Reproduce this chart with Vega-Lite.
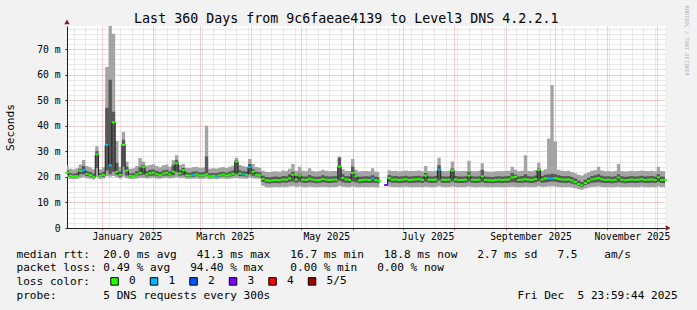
{
  "$schema": "https://vega.github.io/schema/vega-lite/v6.json",
  "width": 598,
  "height": 202,
  "autosize": "none",
  "padding": {"left": 67, "top": 26, "right": 32, "bottom": 82},
  "background": "#f2f2f2",
  "title": {"text": "Last 360 Days from 9c6faeae4139 to Level3 DNS 4.2.2.1", "font": "DejaVu Sans Mono", "fontSize": 13.3, "fontWeight": "normal", "color": "#000000", "anchor": "middle", "frame": "bounds", "dy": 24},
  "config": {
    "view": {"fill": "#ffffff", "stroke": null},
    "font": "DejaVu Sans Mono",
    "axis": {"labelFont": "DejaVu Sans Mono", "labelFontSize": 9.7, "labelColor": "#000000", "titleFont": "DejaVu Sans Mono", "titleFontWeight": "normal", "titleColor": "#000000", "domainColor": "#1f1f1f"},
    "legend": {"labelFont": "DejaVu Sans Mono", "labelFontSize": 11.1, "labelColor": "#000000"}
  },
  "data": {"values": [
    {"t":"2024-12-11T00:00","lo":19.8,"a":20.9,"m":21.6,"b":22.6,"hi":24.4,"l":"0"},
    {"t":"2024-12-13T00:00","lo":19.2,"a":19.9,"m":20.4,"b":21.4,"hi":23.2,"l":"0"},
    {"t":"2024-12-15T00:00","lo":19.1,"a":19.8,"m":20.2,"b":21.2,"hi":22.9,"l":"0"},
    {"t":"2024-12-17T00:00","lo":19.2,"a":19.9,"m":20.3,"b":21.5,"hi":23.4,"l":"0"},
    {"t":"2024-12-19T00:00","lo":19.6,"a":21.0,"m":22.4,"b":23.2,"hi":24.8,"l":"0"},
    {"t":"2024-12-21T00:00","lo":19.8,"a":21.0,"m":22.6,"b":24.2,"hi":26.6,"l":"1"},
    {"t":"2024-12-23T00:00","lo":19.5,"a":20.3,"m":21.2,"b":22.3,"hi":24.2,"l":"0"},
    {"t":"2024-12-25T00:00","lo":19.3,"a":20.1,"m":20.7,"b":21.9,"hi":23.8,"l":"0"},
    {"t":"2024-12-27T00:00","lo":19.0,"a":19.6,"m":20.1,"b":21.2,"hi":23.0,"l":"0"},
    {"t":"2024-12-29T00:00","lo":19.8,"a":23.5,"m":28.8,"b":30.0,"hi":32.0,"l":"0"},
    {"t":"2024-12-31T00:00","lo":19.2,"a":19.9,"m":20.4,"b":21.4,"hi":23.0,"l":"0"},
    {"t":"2025-01-02T00:00","lo":19.4,"a":20.0,"m":20.8,"b":22.0,"hi":23.8,"l":"0"},
    {"t":"2025-01-04T00:00","lo":20.2,"a":22.5,"m":32.5,"b":47.0,"hi":63.0,"l":"1"},
    {"t":"2025-01-06T00:00","lo":20.0,"a":21.0,"m":24.5,"b":58.0,"hi":90.0,"l":"1"},
    {"t":"2025-01-08T00:00","lo":20.3,"a":22.0,"m":41.3,"b":45.5,"hi":76.0,"l":"0"},
    {"t":"2025-01-10T00:00","lo":19.8,"a":20.8,"m":22.0,"b":25.5,"hi":34.0,"l":"0"},
    {"t":"2025-01-12T00:00","lo":19.3,"a":20.0,"m":20.8,"b":22.0,"hi":24.0,"l":"0"},
    {"t":"2025-01-14T00:00","lo":20.0,"a":24.0,"m":32.5,"b":34.5,"hi":37.5,"l":"0"},
    {"t":"2025-01-16T00:00","lo":19.5,"a":20.5,"m":22.5,"b":24.0,"hi":26.0,"l":"0"},
    {"t":"2025-01-18T00:00","lo":19.2,"a":19.8,"m":20.4,"b":21.3,"hi":23.2,"l":"0"},
    {"t":"2025-01-20T00:00","lo":19.2,"a":19.9,"m":20.3,"b":21.4,"hi":23.4,"l":"0"},
    {"t":"2025-01-22T00:00","lo":19.4,"a":20.2,"m":20.9,"b":22.2,"hi":24.2,"l":"0"},
    {"t":"2025-01-24T00:00","lo":19.6,"a":20.6,"m":21.5,"b":23.8,"hi":27.4,"l":"0"},
    {"t":"2025-01-26T00:00","lo":19.6,"a":20.8,"m":23.8,"b":24.5,"hi":26.0,"l":"0"},
    {"t":"2025-01-28T00:00","lo":19.4,"a":20.1,"m":20.9,"b":22.2,"hi":24.3,"l":"0"},
    {"t":"2025-01-30T00:00","lo":19.5,"a":20.4,"m":21.4,"b":22.8,"hi":24.6,"l":"0"},
    {"t":"2025-02-01T00:00","lo":19.6,"a":20.5,"m":21.6,"b":22.9,"hi":24.9,"l":"0"},
    {"t":"2025-02-03T00:00","lo":19.4,"a":20.2,"m":21.0,"b":22.3,"hi":24.2,"l":"0"},
    {"t":"2025-02-05T00:00","lo":19.3,"a":20.1,"m":20.7,"b":21.9,"hi":23.8,"l":"0"},
    {"t":"2025-02-07T00:00","lo":19.5,"a":20.4,"m":21.3,"b":22.5,"hi":24.5,"l":"0"},
    {"t":"2025-02-09T00:00","lo":19.6,"a":20.5,"m":21.6,"b":22.8,"hi":24.8,"l":"0"},
    {"t":"2025-02-11T00:00","lo":19.4,"a":20.2,"m":20.9,"b":22.1,"hi":24.0,"l":"0"},
    {"t":"2025-02-13T00:00","lo":19.5,"a":20.6,"m":22.0,"b":24.5,"hi":26.5,"l":"0"},
    {"t":"2025-02-15T00:00","lo":19.8,"a":22.0,"m":25.3,"b":26.5,"hi":28.5,"l":"0"},
    {"t":"2025-02-17T00:00","lo":19.5,"a":20.4,"m":21.4,"b":22.6,"hi":24.6,"l":"0"},
    {"t":"2025-02-19T00:00","lo":19.6,"a":20.6,"m":22.6,"b":23.5,"hi":25.0,"l":"0"},
    {"t":"2025-02-21T00:00","lo":19.3,"a":20.0,"m":20.6,"b":21.8,"hi":23.6,"l":"0"},
    {"t":"2025-02-23T00:00","lo":19.2,"a":19.9,"m":20.5,"b":21.6,"hi":23.5,"l":"0"},
    {"t":"2025-02-25T00:00","lo":19.3,"a":20.0,"m":20.7,"b":22.0,"hi":23.9,"l":"1"},
    {"t":"2025-02-27T00:00","lo":19.4,"a":20.2,"m":20.9,"b":22.1,"hi":24.0,"l":"0"},
    {"t":"2025-03-01T00:00","lo":19.2,"a":19.9,"m":20.5,"b":21.7,"hi":23.6,"l":"0"},
    {"t":"2025-03-03T00:00","lo":19.3,"a":20.0,"m":20.6,"b":21.8,"hi":23.7,"l":"0"},
    {"t":"2025-03-05T00:00","lo":19.4,"a":20.5,"m":21.0,"b":28.0,"hi":40.0,"l":"0"},
    {"t":"2025-03-07T00:00","lo":19.1,"a":19.8,"m":20.3,"b":21.4,"hi":23.2,"l":"0"},
    {"t":"2025-03-09T00:00","lo":19.2,"a":19.9,"m":20.4,"b":21.5,"hi":23.4,"l":"0"},
    {"t":"2025-03-11T00:00","lo":19.1,"a":19.8,"m":20.3,"b":21.4,"hi":23.3,"l":"1"},
    {"t":"2025-03-13T00:00","lo":19.3,"a":20.0,"m":20.6,"b":21.8,"hi":23.6,"l":"0"},
    {"t":"2025-03-15T00:00","lo":19.4,"a":20.2,"m":20.9,"b":22.0,"hi":23.9,"l":"0"},
    {"t":"2025-03-17T00:00","lo":19.2,"a":19.9,"m":20.5,"b":21.6,"hi":23.5,"l":"0"},
    {"t":"2025-03-19T00:00","lo":19.3,"a":20.1,"m":20.8,"b":22.1,"hi":24.0,"l":"0"},
    {"t":"2025-03-21T00:00","lo":19.5,"a":20.4,"m":21.2,"b":22.5,"hi":24.3,"l":"0"},
    {"t":"2025-03-23T00:00","lo":19.6,"a":21.0,"m":26.0,"b":26.6,"hi":27.5,"l":"0"},
    {"t":"2025-03-25T00:00","lo":19.4,"a":20.3,"m":21.3,"b":22.6,"hi":24.6,"l":"0"},
    {"t":"2025-03-27T00:00","lo":19.4,"a":20.2,"m":21.0,"b":22.2,"hi":24.2,"l":"1"},
    {"t":"2025-03-29T00:00","lo":19.3,"a":20.1,"m":20.8,"b":22.1,"hi":24.0,"l":"0"},
    {"t":"2025-03-31T00:00","lo":19.7,"a":21.0,"m":23.8,"b":25.0,"hi":27.0,"l":"1"},
    {"t":"2025-04-02T00:00","lo":19.4,"a":20.4,"m":22.0,"b":23.0,"hi":25.0,"l":"0"},
    {"t":"2025-04-04T00:00","lo":19.3,"a":20.1,"m":20.8,"b":22.0,"hi":23.9,"l":"0"},
    {"t":"2025-04-06T00:00","lo":19.2,"a":20.0,"m":20.6,"b":21.8,"hi":23.6,"l":"0"},
    {"t":"2025-04-08T00:00","lo":16.5,"a":18.0,"m":19.2,"b":20.4,"hi":22.4,"l":"0"},
    {"t":"2025-04-10T00:00","lo":15.9,"a":17.5,"m":18.6,"b":19.9,"hi":22.0,"l":"0"},
    {"t":"2025-04-12T00:00","lo":15.8,"a":17.4,"m":18.5,"b":19.8,"hi":21.9,"l":"0"},
    {"t":"2025-04-14T00:00","lo":15.9,"a":17.6,"m":18.7,"b":20.0,"hi":22.1,"l":"0"},
    {"t":"2025-04-16T00:00","lo":16.0,"a":17.6,"m":18.8,"b":20.1,"hi":22.2,"l":"0"},
    {"t":"2025-04-18T00:00","lo":15.9,"a":17.5,"m":18.6,"b":19.9,"hi":22.0,"l":"0"},
    {"t":"2025-04-20T00:00","lo":16.1,"a":17.8,"m":19.0,"b":20.3,"hi":22.5,"l":"0"},
    {"t":"2025-04-22T00:00","lo":16.0,"a":17.7,"m":18.9,"b":20.2,"hi":22.3,"l":"0"},
    {"t":"2025-04-24T00:00","lo":16.2,"a":18.0,"m":19.4,"b":21.0,"hi":23.2,"l":"0"},
    {"t":"2025-04-26T00:00","lo":16.3,"a":18.2,"m":20.8,"b":22.0,"hi":25.0,"l":"0"},
    {"t":"2025-04-28T00:00","lo":16.0,"a":17.7,"m":18.9,"b":20.3,"hi":22.4,"l":"0"},
    {"t":"2025-04-30T00:00","lo":16.2,"a":18.1,"m":20.5,"b":21.2,"hi":24.0,"l":"0"},
    {"t":"2025-05-02T00:00","lo":16.0,"a":17.7,"m":18.9,"b":20.2,"hi":22.4,"l":"0"},
    {"t":"2025-05-04T00:00","lo":15.9,"a":17.6,"m":18.8,"b":20.1,"hi":22.2,"l":"0"},
    {"t":"2025-05-06T00:00","lo":16.1,"a":17.9,"m":19.2,"b":20.7,"hi":23.4,"l":"0"},
    {"t":"2025-05-08T00:00","lo":16.0,"a":17.7,"m":18.9,"b":20.2,"hi":22.3,"l":"0"},
    {"t":"2025-05-10T00:00","lo":15.9,"a":17.5,"m":18.7,"b":20.0,"hi":22.1,"l":"0"},
    {"t":"2025-05-12T00:00","lo":16.0,"a":17.6,"m":18.8,"b":20.1,"hi":22.3,"l":"0"},
    {"t":"2025-05-14T00:00","lo":16.1,"a":17.9,"m":19.2,"b":20.6,"hi":22.8,"l":"0"},
    {"t":"2025-05-16T00:00","lo":16.0,"a":17.7,"m":18.9,"b":20.2,"hi":22.4,"l":"0"},
    {"t":"2025-05-18T00:00","lo":15.9,"a":17.6,"m":18.8,"b":20.1,"hi":22.2,"l":"0"},
    {"t":"2025-05-20T00:00","lo":16.0,"a":17.7,"m":18.9,"b":20.2,"hi":22.3,"l":"0"},
    {"t":"2025-05-22T00:00","lo":16.0,"a":17.8,"m":18.9,"b":20.2,"hi":22.3,"l":"0"},
    {"t":"2025-05-24T00:00","lo":16.3,"a":18.5,"m":24.0,"b":27.5,"hi":28.0,"l":"0"},
    {"t":"2025-05-26T00:00","lo":16.1,"a":17.9,"m":19.6,"b":21.0,"hi":23.0,"l":"0"},
    {"t":"2025-05-28T00:00","lo":16.0,"a":17.7,"m":19.0,"b":20.3,"hi":22.4,"l":"0"},
    {"t":"2025-05-30T00:00","lo":15.9,"a":17.6,"m":18.8,"b":20.2,"hi":22.3,"l":"0"},
    {"t":"2025-06-01T00:00","lo":16.2,"a":18.2,"m":21.5,"b":24.0,"hi":27.0,"l":"0"},
    {"t":"2025-06-03T00:00","lo":16.0,"a":17.8,"m":20.3,"b":20.8,"hi":22.8,"l":"0"},
    {"t":"2025-06-05T00:00","lo":15.9,"a":17.5,"m":18.6,"b":20.0,"hi":22.1,"l":"0"},
    {"t":"2025-06-07T00:00","lo":16.0,"a":17.6,"m":18.8,"b":20.1,"hi":22.3,"l":"0"},
    {"t":"2025-06-09T00:00","lo":16.0,"a":17.7,"m":18.9,"b":20.2,"hi":22.3,"l":"0"},
    {"t":"2025-06-11T00:00","lo":15.9,"a":17.6,"m":18.8,"b":20.1,"hi":22.2,"l":"0"},
    {"t":"2025-06-13T00:00","lo":16.0,"a":17.7,"m":19.3,"b":20.6,"hi":23.4,"l":"1"},
    {"t":"2025-06-15T00:00","lo":15.9,"a":17.6,"m":18.7,"b":20.0,"hi":22.1,"l":"0"},
    {"t":"2025-06-17T00:00","lo":15.8,"a":17.4,"m":18.5,"b":19.8,"hi":21.9,"l":"0"},
    {"t":"2025-06-19T00:00","lo":null,"a":null,"m":null,"b":null,"hi":null,"l":null},
    {"t":"2025-06-21T00:00","lo":16.5,"a":16.6,"m":16.8,"b":17.0,"hi":17.2,"l":"3"},
    {"t":"2025-06-23T00:00","lo":16.2,"a":18.0,"m":19.5,"b":20.7,"hi":22.6,"l":"0"},
    {"t":"2025-06-25T00:00","lo":16.0,"a":17.7,"m":18.9,"b":20.2,"hi":22.3,"l":"0"},
    {"t":"2025-06-27T00:00","lo":16.0,"a":17.7,"m":19.0,"b":20.3,"hi":22.4,"l":"0"},
    {"t":"2025-06-29T00:00","lo":15.9,"a":17.6,"m":18.8,"b":20.1,"hi":22.2,"l":"0"},
    {"t":"2025-07-01T00:00","lo":16.0,"a":17.7,"m":18.9,"b":20.2,"hi":22.3,"l":"0"},
    {"t":"2025-07-03T00:00","lo":16.1,"a":17.8,"m":19.1,"b":20.4,"hi":22.5,"l":"0"},
    {"t":"2025-07-05T00:00","lo":16.0,"a":17.6,"m":18.8,"b":20.1,"hi":22.3,"l":"0"},
    {"t":"2025-07-07T00:00","lo":15.9,"a":17.6,"m":18.9,"b":20.2,"hi":22.3,"l":"0"},
    {"t":"2025-07-09T00:00","lo":16.0,"a":17.7,"m":19.0,"b":20.3,"hi":22.4,"l":"0"},
    {"t":"2025-07-11T00:00","lo":16.0,"a":17.8,"m":19.1,"b":20.4,"hi":22.5,"l":"0"},
    {"t":"2025-07-13T00:00","lo":15.9,"a":17.6,"m":18.8,"b":20.1,"hi":22.2,"l":"0"},
    {"t":"2025-07-15T00:00","lo":16.1,"a":18.0,"m":20.5,"b":21.5,"hi":24.2,"l":"0"},
    {"t":"2025-07-17T00:00","lo":16.0,"a":17.7,"m":18.9,"b":20.2,"hi":22.3,"l":"0"},
    {"t":"2025-07-19T00:00","lo":15.9,"a":17.6,"m":18.8,"b":20.1,"hi":22.2,"l":"0"},
    {"t":"2025-07-21T00:00","lo":16.0,"a":17.7,"m":19.0,"b":20.3,"hi":22.4,"l":"0"},
    {"t":"2025-07-23T00:00","lo":16.3,"a":18.5,"m":22.8,"b":24.5,"hi":27.5,"l":"1"},
    {"t":"2025-07-25T00:00","lo":16.0,"a":17.7,"m":18.9,"b":20.2,"hi":22.3,"l":"0"},
    {"t":"2025-07-27T00:00","lo":15.9,"a":17.6,"m":18.8,"b":20.1,"hi":22.2,"l":"0"},
    {"t":"2025-07-29T00:00","lo":16.0,"a":17.7,"m":18.9,"b":20.2,"hi":22.4,"l":"0"},
    {"t":"2025-07-31T00:00","lo":16.2,"a":18.2,"m":22.5,"b":23.3,"hi":26.0,"l":"0"},
    {"t":"2025-08-02T00:00","lo":16.0,"a":17.7,"m":19.0,"b":20.3,"hi":22.4,"l":"0"},
    {"t":"2025-08-04T00:00","lo":15.9,"a":17.6,"m":18.8,"b":20.1,"hi":22.2,"l":"0"},
    {"t":"2025-08-06T00:00","lo":16.0,"a":17.6,"m":18.8,"b":20.1,"hi":22.3,"l":"0"},
    {"t":"2025-08-08T00:00","lo":16.0,"a":17.7,"m":18.9,"b":20.2,"hi":22.3,"l":"0"},
    {"t":"2025-08-10T00:00","lo":16.2,"a":18.1,"m":20.5,"b":22.0,"hi":26.3,"l":"0"},
    {"t":"2025-08-12T00:00","lo":16.0,"a":17.7,"m":18.9,"b":20.2,"hi":22.3,"l":"0"},
    {"t":"2025-08-14T00:00","lo":15.9,"a":17.6,"m":18.8,"b":20.1,"hi":22.2,"l":"0"},
    {"t":"2025-08-16T00:00","lo":16.0,"a":17.7,"m":18.9,"b":20.2,"hi":22.4,"l":"0"},
    {"t":"2025-08-18T00:00","lo":16.1,"a":18.0,"m":20.2,"b":22.7,"hi":25.3,"l":"0"},
    {"t":"2025-08-20T00:00","lo":16.0,"a":17.6,"m":18.8,"b":20.1,"hi":22.2,"l":"0"},
    {"t":"2025-08-22T00:00","lo":15.9,"a":17.6,"m":18.7,"b":20.0,"hi":22.1,"l":"0"},
    {"t":"2025-08-24T00:00","lo":15.9,"a":17.5,"m":18.6,"b":19.9,"hi":22.0,"l":"0"},
    {"t":"2025-08-26T00:00","lo":16.0,"a":17.6,"m":18.8,"b":20.1,"hi":22.2,"l":"0"},
    {"t":"2025-08-28T00:00","lo":16.0,"a":17.7,"m":18.9,"b":20.2,"hi":22.3,"l":"0"},
    {"t":"2025-08-30T00:00","lo":15.9,"a":17.6,"m":18.8,"b":20.1,"hi":22.2,"l":"0"},
    {"t":"2025-09-01T00:00","lo":16.0,"a":17.7,"m":18.9,"b":20.2,"hi":22.3,"l":"0"},
    {"t":"2025-09-03T00:00","lo":16.0,"a":17.7,"m":19.0,"b":20.3,"hi":22.4,"l":"0"},
    {"t":"2025-09-05T00:00","lo":16.1,"a":17.9,"m":19.8,"b":21.5,"hi":24.0,"l":"0"},
    {"t":"2025-09-07T00:00","lo":16.0,"a":17.8,"m":20.0,"b":20.8,"hi":22.8,"l":"0"},
    {"t":"2025-09-09T00:00","lo":15.9,"a":17.6,"m":18.8,"b":20.1,"hi":22.2,"l":"0"},
    {"t":"2025-09-11T00:00","lo":16.0,"a":17.7,"m":18.9,"b":20.3,"hi":22.4,"l":"0"},
    {"t":"2025-09-13T00:00","lo":16.1,"a":17.8,"m":19.1,"b":21.0,"hi":28.5,"l":"0"},
    {"t":"2025-09-15T00:00","lo":16.0,"a":17.7,"m":18.9,"b":20.2,"hi":22.3,"l":"0"},
    {"t":"2025-09-17T00:00","lo":15.9,"a":17.6,"m":18.8,"b":20.1,"hi":22.2,"l":"0"},
    {"t":"2025-09-19T00:00","lo":16.0,"a":17.8,"m":19.2,"b":20.5,"hi":22.6,"l":"0"},
    {"t":"2025-09-21T00:00","lo":16.3,"a":18.3,"m":22.7,"b":23.3,"hi":25.5,"l":"0"},
    {"t":"2025-09-23T00:00","lo":16.0,"a":17.7,"m":19.0,"b":20.3,"hi":22.4,"l":"0"},
    {"t":"2025-09-25T00:00","lo":16.1,"a":17.8,"m":19.4,"b":20.8,"hi":23.0,"l":"0"},
    {"t":"2025-09-27T00:00","lo":16.2,"a":18.0,"m":19.4,"b":21.0,"hi":35.0,"l":"1"},
    {"t":"2025-09-29T00:00","lo":16.3,"a":18.2,"m":19.4,"b":21.2,"hi":55.9,"l":"1"},
    {"t":"2025-10-01T00:00","lo":16.2,"a":18.1,"m":19.5,"b":21.0,"hi":33.8,"l":"0"},
    {"t":"2025-10-03T00:00","lo":16.0,"a":17.8,"m":19.2,"b":20.6,"hi":22.8,"l":"0"},
    {"t":"2025-10-05T00:00","lo":16.0,"a":17.7,"m":19.0,"b":20.3,"hi":22.4,"l":"0"},
    {"t":"2025-10-07T00:00","lo":15.9,"a":17.6,"m":18.9,"b":20.2,"hi":22.3,"l":"0"},
    {"t":"2025-10-09T00:00","lo":16.0,"a":17.7,"m":19.0,"b":20.3,"hi":22.4,"l":"0"},
    {"t":"2025-10-11T00:00","lo":15.8,"a":17.4,"m":18.6,"b":19.9,"hi":21.9,"l":"0"},
    {"t":"2025-10-13T00:00","lo":15.5,"a":17.0,"m":18.0,"b":19.4,"hi":21.4,"l":"0"},
    {"t":"2025-10-15T00:00","lo":15.2,"a":16.5,"m":17.2,"b":18.6,"hi":20.8,"l":"0"},
    {"t":"2025-10-17T00:00","lo":15.0,"a":16.0,"m":16.7,"b":18.0,"hi":20.5,"l":"0"},
    {"t":"2025-10-19T00:00","lo":15.4,"a":16.8,"m":17.6,"b":18.9,"hi":21.2,"l":"0"},
    {"t":"2025-10-21T00:00","lo":15.8,"a":17.3,"m":18.4,"b":19.7,"hi":21.8,"l":"0"},
    {"t":"2025-10-23T00:00","lo":16.0,"a":17.7,"m":19.0,"b":20.3,"hi":22.4,"l":"0"},
    {"t":"2025-10-25T00:00","lo":16.1,"a":17.8,"m":19.3,"b":20.6,"hi":22.6,"l":"0"},
    {"t":"2025-10-27T00:00","lo":16.2,"a":17.9,"m":19.5,"b":21.0,"hi":24.0,"l":"0"},
    {"t":"2025-10-29T00:00","lo":16.0,"a":17.7,"m":19.1,"b":20.4,"hi":22.5,"l":"0"},
    {"t":"2025-10-31T00:00","lo":15.9,"a":17.6,"m":18.8,"b":20.1,"hi":22.2,"l":"0"},
    {"t":"2025-11-02T00:00","lo":16.0,"a":17.6,"m":18.9,"b":20.2,"hi":22.3,"l":"0"},
    {"t":"2025-11-04T00:00","lo":15.9,"a":17.5,"m":18.7,"b":20.0,"hi":22.1,"l":"0"},
    {"t":"2025-11-06T00:00","lo":16.0,"a":17.7,"m":18.9,"b":20.2,"hi":22.3,"l":"0"},
    {"t":"2025-11-08T00:00","lo":16.1,"a":17.9,"m":19.7,"b":21.0,"hi":25.0,"l":"0"},
    {"t":"2025-11-10T00:00","lo":16.0,"a":17.7,"m":18.9,"b":20.2,"hi":22.3,"l":"0"},
    {"t":"2025-11-12T00:00","lo":15.9,"a":17.5,"m":18.7,"b":20.0,"hi":22.1,"l":"0"},
    {"t":"2025-11-14T00:00","lo":16.0,"a":17.6,"m":18.8,"b":20.1,"hi":22.2,"l":"0"},
    {"t":"2025-11-16T00:00","lo":16.0,"a":17.7,"m":19.0,"b":20.3,"hi":22.4,"l":"0"},
    {"t":"2025-11-18T00:00","lo":15.9,"a":17.6,"m":18.8,"b":20.1,"hi":22.2,"l":"0"},
    {"t":"2025-11-20T00:00","lo":16.0,"a":17.7,"m":18.9,"b":20.2,"hi":22.3,"l":"0"},
    {"t":"2025-11-22T00:00","lo":16.1,"a":17.8,"m":19.1,"b":20.4,"hi":22.5,"l":"0"},
    {"t":"2025-11-24T00:00","lo":16.0,"a":17.6,"m":18.8,"b":20.1,"hi":22.3,"l":"0"},
    {"t":"2025-11-26T00:00","lo":15.9,"a":17.6,"m":18.9,"b":20.2,"hi":22.3,"l":"0"},
    {"t":"2025-11-28T00:00","lo":16.0,"a":17.7,"m":19.0,"b":20.3,"hi":22.4,"l":"0"},
    {"t":"2025-11-30T00:00","lo":15.9,"a":17.6,"m":18.8,"b":20.1,"hi":22.2,"l":"0"},
    {"t":"2025-12-02T00:00","lo":16.2,"a":18.0,"m":19.8,"b":21.0,"hi":24.0,"l":"0"},
    {"t":"2025-12-04T00:00","lo":16.0,"a":17.6,"m":18.8,"b":20.1,"hi":22.3,"l":"0"},
    {"t":"2025-12-06T00:00","lo":15.9,"a":17.5,"m":18.8,"b":20.0,"hi":22.2,"l":"0"}
  ]},
  "layer": [
    {
      "mark": {"type": "area", "interpolate": "step", "color": "#a4a4a4", "opacity": 1, "clip": true, "invalid": "break-paths-filter-domains"},
      "encoding": {
        "x": {"field": "t", "type": "temporal",
          "scale": {"domain": [{"year": 2024, "month": 12, "date": 10, "hours": 23, "minutes": 59, "seconds": 44}, {"year": 2025, "month": 12, "date": 5, "hours": 23, "minutes": 59, "seconds": 44}]},
          "axis": {"orient": "top", "grid": true, "gridColor": "#d2d2d2", "gridDash": [1, 1], "gridWidth": 1, "tickCount": {"interval": "week", "step": 1}, "labels": false, "ticks": false, "domain": false, "title": null}},
        "y": {"field": "lo", "type": "quantitative",
          "scale": {"domain": [0, 79], "nice": false, "zero": false},
          "axis": {"orient": "right", "values": [2,4,6,8,12,14,16,18,22,24,26,28,32,34,36,38,42,44,46,48,52,54,56,58,62,64,66,68,72,74,76,78], "grid": true, "gridColor": "#d2d2d2", "gridDash": [1, 1], "labels": false, "ticks": false, "domain": false,
            "title": "RRDTOOL / TOBI OETIKER", "titleAngle": 90, "titleX": 21, "titleY": -21, "titleAlign": "left", "titleBaseline": "middle", "titleFontSize": 5.3, "titleColor": "#b4b4b4"}},
        "y2": {"field": "hi"}
      }
    },
    {
      "mark": {"type": "area", "interpolate": "step", "color": "#585858", "opacity": 1, "clip": true, "invalid": "break-paths-filter-domains"},
      "encoding": {
        "x": {"field": "t", "type": "temporal",
          "scale": {"domain": [{"year": 2024, "month": 12, "date": 10, "hours": 23, "minutes": 59, "seconds": 44}, {"year": 2025, "month": 12, "date": 5, "hours": 23, "minutes": 59, "seconds": 44}]},
          "axis": {"orient": "bottom", "grid": true, "gridColor": "#e99a9a", "gridDash": [1, 1], "tickCount": {"interval": "month", "step": 1}, "tickColor": "#de4f4f", "tickSize": 2,
            "labelExpr": "month(datum.value) % 2 == 0 ? timeFormat(datum.value, '%B %Y') : ''", "labelOffset": 25, "labelPadding": 1, "labelOverlap": false, "labelFlush": false, "labelBound": false,
            "title": ["median\u00a0rtt:\u00a0\u00a020.0\u00a0ms\u00a0avg\u00a0\u00a0\u00a041.3\u00a0ms\u00a0max\u00a0\u00a0\u00a016.7\u00a0ms\u00a0min\u00a0\u00a0\u00a018.8\u00a0ms\u00a0now\u00a0\u00a0\u00a02.7\u00a0ms\u00a0sd\u00a0\u00a0\u00a07.5\u00a0\u00a0\u00a0\u00a0am/s",
                      "packet\u00a0loss:\u00a00.49\u00a0%\u00a0avg\u00a0\u00a0\u00a094.40\u00a0%\u00a0max\u00a0\u00a0\u00a0\u00a00.00\u00a0%\u00a0min\u00a0\u00a0\u00a00.00\u00a0%\u00a0now",
                      "loss\u00a0color:",
                      "probe:\u00a0\u00a0\u00a0\u00a0\u00a0\u00a0\u00a05\u00a0DNS\u00a0requests\u00a0every\u00a0300s\u00a0\u00a0\u00a0\u00a0\u00a0\u00a0\u00a0\u00a0\u00a0\u00a0\u00a0\u00a0\u00a0\u00a0\u00a0\u00a0\u00a0\u00a0\u00a0\u00a0\u00a0\u00a0\u00a0\u00a0\u00a0\u00a0\u00a0\u00a0\u00a0\u00a0\u00a0\u00a0\u00a0\u00a0\u00a0\u00a0\u00a0Fri\u00a0Dec\u00a0\u00a05\u00a023:59:44\u00a02025"],
            "titleX": -51, "titleY": 29, "titleAlign": "left", "titleAnchor": "start", "titleBaseline": "alphabetic", "titleFontSize": 11.1, "titleLineHeight": 13.7}},
        "y": {"field": "a", "type": "quantitative",
          "scale": {"domain": [0, 79], "nice": false, "zero": false},
          "axis": {"orient": "left", "values": [0, 10, 20, 30, 40, 50, 60, 70], "grid": true, "gridColor": "#e99a9a", "gridDash": [1, 1], "tickSize": 2, "tickColor": "#1f1f1f", "labelPadding": 5,
            "labelExpr": "datum.value == 0 ? '0\u2007\u2007' : datum.value + '\u00a0m'",
            "title": "Seconds", "titleFontSize": 11.1, "titleX": -56.5, "titleY": 101, "titleAngle": 270, "titleAlign": "center", "titleBaseline": "middle"}},
        "y2": {"field": "b"}
      }
    },
    {
      "mark": {"type": "line", "interpolate": "step", "color": "#202020", "strokeWidth": 1, "invalid": "break-paths-filter-domains"},
      "encoding": {
        "x": {"field": "t", "type": "temporal", "axis": null},
        "y": {"field": "m", "type": "quantitative", "axis": null}
      }
    },
    {
      "mark": {"type": "tick", "orient": "horizontal", "size": 3.5, "thickness": 2, "opacity": 1},
      "encoding": {
        "x": {"field": "t", "type": "temporal", "axis": null},
        "y": {"field": "m", "type": "quantitative", "axis": null},
        "color": {"field": "l", "type": "nominal",
          "scale": {"domain": ["0", "1", "2", "3", "4", "5/5"], "range": ["#26ff00", "#00b8ff", "#0059ff", "#7e00ff", "#ff0000", "#a00000"]},
          "legend": {"orient": "none", "legendX": 42, "legendY": 249.5, "direction": "horizontal", "title": null, "symbolType": "square", "symbolSize": 56, "symbolStrokeColor": "#000000", "symbolStrokeWidth": 1, "symbolOpacity": 1, "labelOffset": 9, "columnPadding": 11.5, "padding": 0}}
      }
    },
    {
      "data": {"values": [
        {"t": "2024-12-10T23:59:44", "v": 80.6, "s": "triangle-up"},
        {"t": "2025-12-07T21:00", "v": 0, "s": "triangle-right"}
      ]},
      "mark": {"type": "point", "filled": true, "size": 30, "color": "#801f1f", "opacity": 1},
      "encoding": {
        "x": {"field": "t", "type": "temporal", "axis": null},
        "y": {"field": "v", "type": "quantitative", "axis": null},
        "shape": {"field": "s", "type": "nominal", "scale": null}
      }
    }
  ],
  "resolve": {"axis": {"x": "independent", "y": "independent"}}
}
